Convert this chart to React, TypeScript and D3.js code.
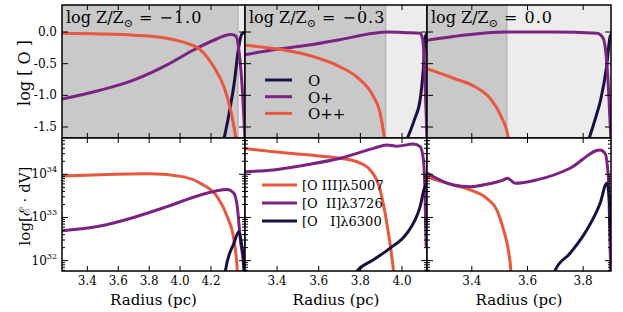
import { useEffect, useRef } from 'react';
import * as d3 from 'd3';

// radius (pc), log abundance  -- top row
const O_m10: [number, number][] = [[4.283, -1.7], [4.32, -1.25], [4.35, -0.81], [4.38, -0.23], [4.40, -0.03], [4.43, 0.0]];
const Op_m10: [number, number][] = [[3.236, -1.06], [3.483, -0.92], [3.699, -0.76], [3.916, -0.52], [4.09, -0.28], [4.218, -0.13], [4.327, -0.04], [4.36, -0.06], [4.38, -0.28], [4.40, -0.81], [4.42, -1.7]];
const Opp_m10: [number, number][] = [[3.236, -0.02], [3.483, -0.03], [3.699, -0.05], [3.916, -0.10], [4.046, -0.18], [4.132, -0.28], [4.218, -0.55], [4.283, -0.86], [4.327, -1.23], [4.359, -1.65], [4.365, -1.75]];

const O_m03: [number, number][] = [[4.023, -1.7], [4.06, -1.38], [4.087, -1.07], [4.103, -0.55], [4.112, -0.07], [4.125, 0.0]];
const Op_m03: [number, number][] = [[3.246, -0.36], [3.382, -0.28], [3.543, -0.21], [3.703, -0.12], [3.863, -0.02], [3.927, 0.0], [4.023, -0.01], [4.087, -0.02], [4.1, -0.13], [4.108, -0.55], [4.116, -1.3], [4.12, -1.75]];
const Opp_m03: [number, number][] = [[3.246, -0.21], [3.382, -0.26], [3.543, -0.36], [3.703, -0.55], [3.783, -0.71], [3.863, -1.02], [3.895, -1.28], [3.914, -1.65], [3.918, -1.75]];

const O_p00: [number, number][] = [[3.82, -1.7], [3.845, -1.35], [3.863, -1.07], [3.884, -0.55], [3.897, -0.07], [3.91, 0.0]];
const Op_p00: [number, number][] = [[3.239, -0.13], [3.334, -0.07], [3.526, 0.0], [3.694, 0.0], [3.85, -0.02], [3.872, -0.10], [3.886, -0.55], [3.893, -1.07], [3.90, -1.75]];
const Opp_p00: [number, number][] = [[3.239, -0.58], [3.334, -0.73], [3.41, -0.86], [3.47, -1.07], [3.506, -1.34], [3.53, -1.65], [3.533, -1.75]];

// radius (pc), log10 emission -- bottom row
const OIII_m10: [number, number][] = [[3.236, 33.96], [3.483, 33.99], [3.807, 34.01], [4.024, 33.94], [4.132, 33.79], [4.24, 33.48], [4.305, 33.02], [4.348, 32.48], [4.37, 31.78], [4.372, 31.6]];
const OII_m10: [number, number][] = [[3.236, 32.69], [3.483, 32.80], [3.699, 33.0], [3.916, 33.25], [4.132, 33.52], [4.305, 33.65], [4.348, 33.56], [4.37, 33.25], [4.39, 32.48], [4.413, 31.78], [4.415, 31.6]];
const OI_m10: [number, number][] = [[4.288, 31.6], [4.294, 31.78], [4.348, 32.4], [4.38, 32.67], [4.40, 32.32], [4.418, 31.78], [4.42, 31.6]];

const OIII_m03: [number, number][] = [[3.246, 34.6], [3.382, 34.52], [3.543, 34.45], [3.703, 34.37], [3.783, 34.29], [3.847, 34.1], [3.895, 33.64], [3.927, 32.87], [3.951, 32.09], [3.959, 31.75], [3.961, 31.6]];
const OII_m03: [number, number][] = [[3.246, 34.06], [3.382, 34.1], [3.543, 34.22], [3.703, 34.37], [3.863, 34.6], [3.927, 34.68], [3.975, 34.65], [4.055, 34.7], [4.087, 34.64], [4.103, 34.33], [4.11, 33.64], [4.116, 32.32]];
const OI_m03: [number, number][] = [[3.775, 31.6], [3.783, 31.75], [3.863, 32.02], [3.943, 32.29], [4.023, 32.63], [4.087, 33.25], [4.11, 33.71], [4.12, 33.75]];

const OIII_p00: [number, number][] = [[3.239, 33.93], [3.334, 33.75], [3.394, 33.64], [3.454, 33.44], [3.49, 33.17], [3.514, 32.71], [3.531, 32.25], [3.54, 31.79], [3.542, 31.6]];
const OII_p00: [number, number][] = [[3.239, 34.03], [3.334, 33.75], [3.394, 33.71], [3.454, 33.77], [3.514, 33.87], [3.528, 33.91], [3.556, 33.79], [3.634, 33.87], [3.753, 34.14], [3.861, 34.56], [3.879, 34.48], [3.891, 33.87], [3.897, 32.25], [3.9, 31.6]];
const OI_p00: [number, number][] = [[3.695, 31.6], [3.699, 31.77], [3.753, 32.17], [3.813, 32.71], [3.861, 33.33], [3.885, 33.79], [3.893, 33.5], [3.9, 32.5]];

const metalLabels = ['\u22121.0', '\u22120.3', '0.0'];
const ionEdge = [4.375, 3.922, 3.526];
const xDomains: [number, number][] = [[3.236, 4.42], [3.246, 4.12], [3.239, 3.90]];
const xTickVals = [[3.4, 3.6, 3.8, 4.0, 4.2], [3.4, 3.6, 3.8, 4.0], [3.4, 3.6, 3.8]];
const topYTicks = [0.0, -0.5, -1.0, -1.5];
const ionNames = ['O', 'O+', 'O++'];
const lineNames = ['[O III]\u03bb5007', '[O  II]\u03bb3726', '[O   I]\u03bb6300'];

const C_O = '#1b1044';
const C_OP = '#7b2283';
const C_OPP = '#e9583e';
const SERIF = "'DejaVu Serif', 'Liberation Serif', serif";

export default function App() {
  const svgRef = useRef<SVGSVGElement>(null);

  useEffect(() => {
    const svg = d3.select(svgRef.current);
    svg.selectAll('*').remove();
    svg.attr('width', 623).attr('height', 312).attr('font-family', SERIF);

    const cols = [
      { x0: 62, x1: 245 },
      { x0: 245, x1: 427 },
      { x0: 427, x1: 611 },
    ];
    const top = { y0: 5, y1: 138 };
    const bot = { y0: 138, y1: 271 };

    const yTop = d3.scaleLinear().domain([-1.674, 0.427]).range([top.y1, top.y0]);
    const yBot = d3.scaleLog().domain([10 ** 31.76, 10 ** 34.84]).range([bot.y1, bot.y0]);

    const topSeries = [
      [O_m10, Op_m10, Opp_m10],
      [O_m03, Op_m03, Opp_m03],
      [O_p00, Op_p00, Opp_p00],
    ];
    const botSeries = [
      [OIII_m10, OII_m10, OI_m10],
      [OIII_m03, OII_m03, OI_m03],
      [OIII_p00, OII_p00, OI_p00],
    ];
    const topColors = [C_O, C_OP, C_OPP];
    const botColors = [C_OPP, C_OP, C_O];

    const defs = svg.append('defs');

    cols.forEach((c, i) => {
      const x = d3.scaleLinear().domain(xDomains[i]).range([c.x0, c.x1]);

      // ---- top panel ----
      const clipT = `clipT${i}`;
      defs.append('clipPath').attr('id', clipT).append('rect')
        .attr('x', c.x0).attr('y', top.y0).attr('width', c.x1 - c.x0).attr('height', top.y1 - top.y0);
      const gT = svg.append('g');
      const xe = Math.min(x(ionEdge[i]), c.x1);
      gT.append('rect').attr('x', c.x0).attr('y', top.y0).attr('width', c.x1 - c.x0).attr('height', top.y1 - top.y0).attr('fill', '#ececec');
      gT.append('rect').attr('x', c.x0).attr('y', top.y0).attr('width', xe - c.x0).attr('height', top.y1 - top.y0).attr('fill', '#c9c9c9');
      gT.append('line').attr('x1', xe).attr('x2', xe).attr('y1', top.y0).attr('y2', top.y1).attr('stroke', '#aaaaaa').attr('stroke-width', 1);

      const lineT = d3.line<[number, number]>().x((d) => x(d[0])).y((d) => yTop(d[1])).curve(d3.curveMonotoneX);
      const lines = gT.append('g').attr('clip-path', `url(#${clipT})`);
      topSeries[i].forEach((s, k) => {
        lines.append('path').attr('d', lineT(s)!).attr('fill', 'none').attr('stroke', topColors[k]).attr('stroke-width', 3);
      });

      // ticks
      xTickVals[i].forEach((t) => {
        gT.append('line').attr('x1', x(t)).attr('x2', x(t)).attr('y1', top.y1).attr('y2', top.y1 - 5).attr('stroke', '#000');
        gT.append('line').attr('x1', x(t)).attr('x2', x(t)).attr('y1', top.y0).attr('y2', top.y0 + 5).attr('stroke', '#000');
      });
      topYTicks.forEach((t) => {
        gT.append('line').attr('x1', c.x0).attr('x2', c.x0 + 6).attr('y1', yTop(t)).attr('y2', yTop(t)).attr('stroke', '#000');
        gT.append('line').attr('x1', c.x1).attr('x2', c.x1 - 6).attr('y1', yTop(t)).attr('y2', yTop(t)).attr('stroke', '#000');
        if (i === 0) {
          gT.append('text').attr('x', c.x0 - 5).attr('y', yTop(t) + 4).attr('text-anchor', 'end')
            .attr('font-size', 12).text(d3.format('.1f')(t).replace('\u2212', '-'));
        }
      });
      gT.append('rect').attr('x', c.x0).attr('y', top.y0).attr('width', c.x1 - c.x0).attr('height', top.y1 - top.y0)
        .attr('fill', 'none').attr('stroke', '#000').attr('stroke-width', 1.5);

      const title = gT.append('text').attr('x', c.x0 + 4).attr('y', 23).attr('font-size', 16);
      title.append('tspan').text('log Z/Z');
      title.append('tspan').attr('font-size', 11).attr('dy', 4).text('\u2299');
      title.append('tspan').attr('dy', -4).attr('letter-spacing', 1).text(` = ${metalLabels[i]}`);

      // ---- bottom panel ----
      const clipB = `clipB${i}`;
      defs.append('clipPath').attr('id', clipB).append('rect')
        .attr('x', c.x0).attr('y', bot.y0).attr('width', c.x1 - c.x0).attr('height', bot.y1 - bot.y0);
      const gB = svg.append('g');
      gB.append('rect').attr('x', c.x0).attr('y', bot.y0).attr('width', c.x1 - c.x0).attr('height', bot.y1 - bot.y0).attr('fill', '#fff');
      const lineB = d3.line<[number, number]>().x((d) => x(d[0])).y((d) => yBot(10 ** d[1])).curve(d3.curveMonotoneX);
      const linesB = gB.append('g').attr('clip-path', `url(#${clipB})`);
      botSeries[i].forEach((s, k) => {
        linesB.append('path').attr('d', lineB(s)!).attr('fill', 'none').attr('stroke', botColors[k]).attr('stroke-width', 3);
      });

      xTickVals[i].forEach((t) => {
        gB.append('line').attr('x1', x(t)).attr('x2', x(t)).attr('y1', bot.y1).attr('y2', bot.y1 - 5).attr('stroke', '#000');
        gB.append('line').attr('x1', x(t)).attr('x2', x(t)).attr('y1', bot.y0).attr('y2', bot.y0 + 5).attr('stroke', '#000');
        gB.append('text').attr('x', x(t)).attr('y', 285).attr('text-anchor', 'middle')
          .attr('font-size', 12).text(d3.format('.1f')(t));
      });
      yBot.ticks().forEach((t) => {
        const major = Math.abs(Math.log10(t) - Math.round(Math.log10(t))) < 1e-6;
        const len = major ? 6 : 3;
        gB.append('line').attr('x1', c.x0).attr('x2', c.x0 + len).attr('y1', yBot(t)).attr('y2', yBot(t)).attr('stroke', '#000');
        gB.append('line').attr('x1', c.x1).attr('x2', c.x1 - len).attr('y1', yBot(t)).attr('y2', yBot(t)).attr('stroke', '#000');
        if (major && i === 0) {
          const tx = gB.append('text').attr('x', c.x0 - 5).attr('y', yBot(t) + 4).attr('text-anchor', 'end')
            .attr('font-size', 12);
          tx.append('tspan').text('10');
          tx.append('tspan').attr('font-size', 8).attr('dy', -6).text(String(Math.round(Math.log10(t))));
        }
      });
      gB.append('rect').attr('x', c.x0).attr('y', bot.y0).attr('width', c.x1 - c.x0).attr('height', bot.y1 - bot.y0)
        .attr('fill', 'none').attr('stroke', '#000').attr('stroke-width', 1.5);

      svg.append('text').attr('x', (c.x0 + c.x1) / 2).attr('y', 305).attr('text-anchor', 'middle')
        .attr('font-size', 15).text('Radius (pc)');
    });

    // legends (middle column)
    ionNames.forEach((n, k) => {
      const yy = 80 + k * 16.7;
      svg.append('line').attr('x1', 265).attr('x2', 292).attr('y1', yy).attr('y2', yy).attr('stroke', topColors[k]).attr('stroke-width', 3);
      svg.append('text').attr('x', 308).attr('y', yy + 6).attr('font-size', 15).text(n);
    });
    lineNames.forEach((n, k) => {
      const yy = 185 + k * 18;
      svg.append('line').attr('x1', 262).attr('x2', 297).attr('y1', yy).attr('y2', yy).attr('stroke', botColors[k]).attr('stroke-width', 3);
      svg.append('text').attr('x', 302).attr('y', yy + 5).attr('font-size', 13)
        .attr('xml:space', 'preserve').style('white-space', 'pre').text(n);
    });

    // y labels
    svg.append('text').attr('transform', 'translate(30,73) rotate(-90)').attr('text-anchor', 'middle')
      .attr('font-size', 16).style('white-space', 'pre').text('log [ O ]');
    svg.append('text').attr('transform', 'translate(30,206) rotate(-90)').attr('text-anchor', 'middle')
      .attr('font-size', 15).style('white-space', 'pre').text('log[\u2130 \u00b7 dV]');
  }, []);

  return (
    <div style={{ position: 'absolute', left: 0, top: 0 }}>
      <svg ref={svgRef}></svg>
    </div>
  );
}
